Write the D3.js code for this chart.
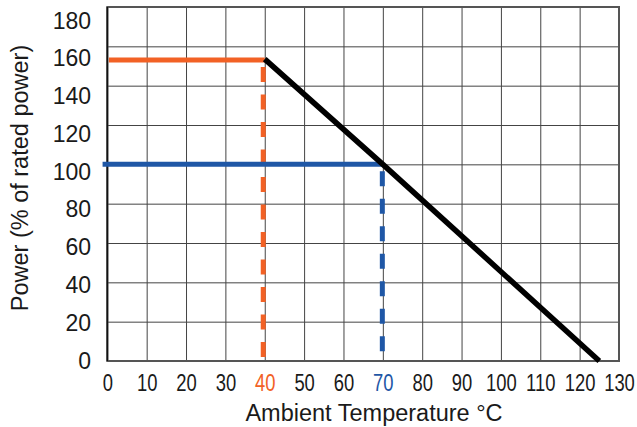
<!DOCTYPE html>
<html>
<head>
<meta charset="utf-8">
<script src="https://cdn.jsdelivr.net/npm/d3@7/dist/d3.min.js"></script>
<style>
  body { margin: 0; background: #fff; }
  svg { display: block; font-family: "Liberation Sans", Arial, sans-serif; }
  .grid line { stroke: #444; stroke-width: 1; }
  .grid path { display: none; }
  .tickLabels path, .tickLabels line { display: none; }
  .tickLabels text { font-size: 23px; fill: #1a1a1a; }
  .axisLabel { font-size: 23.5px; fill: #1a1a1a; }
</style>
</head>
<body>
<div class="chart"></div>
<script>
// derating curve data
var xTicks = [0, 10, 20, 30, 40, 50, 60, 70, 80, 90, 100, 110, 120, 130];
var yTicks = [0, 20, 40, 60, 80, 100, 120, 140, 160, 180];
var derating = [ { temp: 40, power: 153.5 }, { temp: 70, power: 100 }, { temp: 125, power: 0 } ];
var orangeMark = { temp: 40, power: 153, startTemp: 0.4 };
var blueMark = { temp: 70, power: 100, startTemp: -1.2 };

var svg = d3.select(".chart")
            .append("svg")
            .attr("width", 637)
            .attr("height", 427);

var orange = "#f26125";
var blue = "#1f57a6";

var scaleX = d3.scaleLinear()
               .domain([0, 130])
               .range([107.3, 619]);

var scaleY = d3.scaleLinear()
               .domain([0, 180])
               .range([361, 7]);

// the tick labels in the picture sit on a slightly tighter spacing than the grid
var labelY = d3.scaleLinear()
               .domain([0, 180])
               .range([360, 20]);

// grid
svg.append("g")
   .attr("class", "grid")
   .attr("transform", "translate(0,361)")
   .call(d3.axisBottom(scaleX).tickValues(xTicks).tickSize(-354).tickFormat(""));

svg.append("g")
   .attr("class", "grid")
   .attr("transform", "translate(107.3,0)")
   .call(d3.axisLeft(scaleY).tickValues(yTicks).tickSize(-511.7).tickFormat(""));

// frame
svg.append("rect")
   .attr("x", scaleX(0))
   .attr("y", scaleY(180))
   .attr("width", scaleX(130) - scaleX(0))
   .attr("height", scaleY(0) - scaleY(180))
   .style("fill", "none")
   .style("stroke", "#555")
   .style("stroke-width", 2);

svg.append("line")
   .attr("x1", scaleX(0)).attr("x2", scaleX(0))
   .attr("y1", scaleY(180)).attr("y2", scaleY(0))
   .style("stroke", "#111")
   .style("stroke-width", 1.5);

// tick labels
var xAxis = svg.append("g")
               .attr("class", "tickLabels")
               .attr("transform", "translate(0,383)")
               .call(d3.axisBottom(scaleX).tickValues(xTicks).tickSize(0).tickPadding(0));

xAxis.selectAll("text")
     .attr("y", 0)
     .attr("dy", "0.35em")
     .attr("transform", "scale(0.8,1.02)")
     .style("fill", function(d) {
        if (d === orangeMark.temp) { return orange; }
        else if (d === blueMark.temp) { return blue; }
        else { return "#1a1a1a"; }
     });

svg.append("g")
   .attr("class", "tickLabels")
   .attr("transform", "translate(91,0)")
   .call(d3.axisLeft(labelY).tickValues(yTicks).tickSize(0).tickPadding(0))
   .selectAll("text")
   .attr("x", 0)
   .attr("dy", "0.35em");

// reference lines
var dashStyle = "15,12.5";

svg.append("line")
   .attr("x1", scaleX(orangeMark.startTemp)).attr("x2", scaleX(orangeMark.temp))
   .attr("y1", scaleY(orangeMark.power)).attr("y2", scaleY(orangeMark.power))
   .style("stroke", orange)
   .style("stroke-width", 5);

svg.append("line")
   .attr("x1", scaleX(orangeMark.temp) - 1.5).attr("x2", scaleX(orangeMark.temp) - 1.5)
   .attr("y1", scaleY(orangeMark.power) + 7).attr("y2", scaleY(0))
   .style("stroke", orange)
   .style("stroke-width", 5)
   .style("stroke-dasharray", dashStyle);

svg.append("line")
   .attr("x1", scaleX(blueMark.startTemp)).attr("x2", scaleX(blueMark.temp))
   .attr("y1", scaleY(blueMark.power)).attr("y2", scaleY(blueMark.power))
   .style("stroke", blue)
   .style("stroke-width", 5);

svg.append("line")
   .attr("x1", scaleX(blueMark.temp) - 0.5).attr("x2", scaleX(blueMark.temp) - 0.5)
   .attr("y1", scaleY(blueMark.power) + 7).attr("y2", scaleY(0))
   .style("stroke", blue)
   .style("stroke-width", 5)
   .style("stroke-dasharray", dashStyle);

// derating curve
var line = d3.line()
             .x(function(d) { return scaleX(d.temp); })
             .y(function(d) { return scaleY(d.power); });

svg.append("path")
   .datum(derating)
   .attr("d", line)
   .style("fill", "none")
   .style("stroke", "#000")
   .style("stroke-width", 5.5);

// axis titles
svg.append("text")
   .attr("class", "axisLabel")
   .attr("x", 374)
   .attr("y", 413)
   .attr("dy", "0.35em")
   .style("text-anchor", "middle")
   .text("Ambient Temperature °C");

svg.append("text")
   .attr("class", "axisLabel")
   .attr("transform", "translate(20,178) rotate(-90)")
   .attr("dy", "0.35em")
   .style("text-anchor", "middle")
   .text("Power (% of rated power)");
</script>
</body>
</html>
